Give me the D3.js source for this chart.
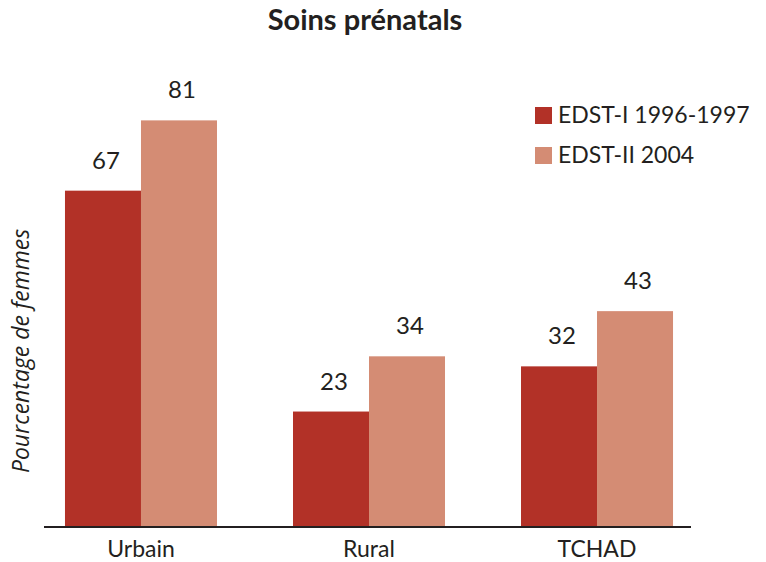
<!DOCTYPE html>
<html>
<head>
<meta charset="utf-8">
<script src="https://cdn.jsdelivr.net/npm/d3@7"></script>
<style>
  body { margin: 0; background: #fff; }
  text { font-family: Lato, "Open Sans", sans-serif; fill: #231f20; }
</style>
</head>
<body>
<div id="chart-container"></div>
<script>
// data
let categories = ["Urbain", "Rural", "TCHAD"];
let seriesNames = ["EDST-I 1996-1997", "EDST-II 2004"];
let edst1 = [67, 23, 32];
let edst2 = [81, 34, 43];
let colors = ["#b23127", "#d48c74"];

let width = 766;
let height = 562;

var svg = d3
  .select("#chart-container")
  .append("svg")
  .attr("width", width)
  .attr("height", height);

let rows = categories.map((c, i) => ({ cat: c, values: [edst1[i], edst2[i]] }));

// scales
let xScale = d3
  .scaleBand()
  .domain(categories)
  .range([44, 694])
  .paddingInner(1 / 3)
  .paddingOuter(0.092);

let xInner = d3
  .scaleBand()
  .domain([0, 1])
  .range([0, xScale.bandwidth()]);

let yScale = d3.scaleLinear().domain([0, 100]).range([527, 25]);

// title
svg
  .append("text")
  .attr("x", 365)
  .attr("y", 30)
  .style("text-anchor", "middle")
  .style("font-size", "29px")
  .style("font-weight", "bold")
  .text("Soins prénatals");

// bars
let groups = svg
  .append("g")
  .selectAll("g")
  .data(rows)
  .enter()
  .append("g")
  .attr("transform", (d) => "translate(" + xScale(d.cat) + ",0)");

groups
  .selectAll("rect")
  .data((d) => d.values.map((v, i) => ({ v: v, i: i })))
  .enter()
  .append("rect")
  .attr("x", (d) => xInner(d.i))
  .attr("y", (d) => yScale(d.v))
  .attr("width", xInner.bandwidth())
  .attr("height", (d) => yScale(0) - yScale(d.v))
  .style("fill", (d) => colors[d.i]);

// value labels
groups
  .selectAll(".val")
  .data((d) => d.values.map((v, i) => ({ v: v, i: i })))
  .enter()
  .append("text")
  .attr("class", "val")
  .attr("x", (d) => xInner(d.i) + xInner.bandwidth() / 2 + 3)
  .attr("y", (d) => yScale(d.v) - 22)
  .style("text-anchor", "middle")
  .style("font-size", "24px")
  .text((d) => d.v);

// x axis
let xAxis = svg
  .append("g")
  .attr("transform", "translate(0," + yScale(0) + ")")
  .call(d3.axisBottom(xScale).tickSize(0).tickPadding(14));
xAxis.select(".domain").remove();
xAxis
  .append("line")
  .attr("x1", 44)
  .attr("x2", 691)
  .attr("y1", 0)
  .attr("y2", 0)
  .style("stroke", "#231f20")
  .style("stroke-width", 2);
xAxis
  .selectAll(".tick text")
  .style("font-family", "Lato, sans-serif")
  .style("font-size", "23px")
  .style("fill", "#231f20");

// y axis label
svg
  .append("text")
  .attr("transform", "rotate(-90)")
  .attr("x", -351)
  .attr("y", 29)
  .style("text-anchor", "middle")
  .style("font-family", "'Open Sans', sans-serif")
  .style("font-style", "italic")
  .style("font-size", "23px")
  .text("Pourcentage de femmes");

// legend
let legend = svg
  .append("g")
  .selectAll(".legend-label")
  .data(seriesNames)
  .enter()
  .append("g")
  .attr("class", "legend-label")
  .attr("transform", (d, i) => "translate(535," + (107 + i * 40) + ")");

legend
  .append("rect")
  .attr("width", 17)
  .attr("height", 17)
  .style("fill", (d, i) => colors[i]);

legend
  .append("text")
  .attr("x", 23)
  .attr("y", 16)
  .style("font-size", "23px")
  .text((d) => d);
</script>
</body>
</html>
